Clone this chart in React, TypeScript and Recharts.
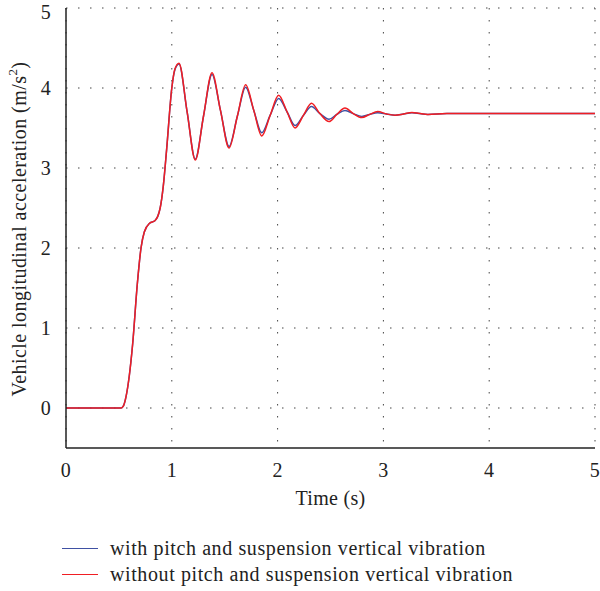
import React from 'react';
import {
  LineChart,
  Line,
  XAxis,
  YAxis,
  CartesianGrid,
} from 'recharts';

// time (s)
const times = [
  0, 0.52, 0.54, 0.567, 0.598, 0.63, 0.674, 0.709, 0.74, 0.79, 0.84, 0.89, 0.92, 0.951, 1.0, 1.03,
  1.068, 1.145, 1.222, 1.3, 1.38, 1.46, 1.541, 1.62, 1.698, 1.775, 1.85, 1.93, 2.01, 2.09,
  2.165, 2.245, 2.32, 2.4, 2.486, 2.56, 2.637, 2.715, 2.795, 2.87, 2.946, 3.03, 3.11, 3.19,
  3.27, 3.345, 3.42, 3.6, 4.0, 4.5, 5.0,
];

// with pitch and suspension vertical vibration
const withVibration = [
  0, 0, 0.02, 0.14, 0.4, 0.8, 1.55, 2.0, 2.2, 2.31, 2.34, 2.5, 2.78, 3.23, 4.0, 4.23,
  4.3, 3.7, 3.11, 3.65, 4.17, 3.72, 3.27, 3.65, 4.01, 3.72, 3.44, 3.66, 3.87, 3.7,
  3.53, 3.66, 3.77, 3.68, 3.61, 3.67, 3.72, 3.68, 3.645, 3.67, 3.69, 3.675, 3.66, 3.675,
  3.69, 3.68, 3.67, 3.68, 3.68, 3.68, 3.68,
];

// without pitch and suspension vertical vibration
const withoutVibration = [
  0, 0, 0.02, 0.14, 0.4, 0.8, 1.55, 2.0, 2.2, 2.31, 2.34, 2.5, 2.78, 3.23, 4.0, 4.24,
  4.31, 3.7, 3.1, 3.65, 4.19, 3.72, 3.25, 3.65, 4.04, 3.72, 3.4, 3.66, 3.91, 3.7,
  3.5, 3.66, 3.81, 3.68, 3.58, 3.67, 3.75, 3.68, 3.63, 3.67, 3.705, 3.675, 3.66, 3.675,
  3.695, 3.68, 3.67, 3.68, 3.68, 3.68, 3.68,
];

const xTicks = [0, 1, 2, 3, 4, 5];
const yTicks = [0, 1, 2, 3, 4, 5];

const data = times.map((t, i) => ({
  t,
  blue: withVibration[i],
  red: withoutVibration[i],
}));

const FONT = '"Liberation Serif", "Times New Roman", serif';
const FS = 20;
const LS = 0.3;
const BLUE = '#3f51a3';
const RED = '#f01e23';

const tickStyle = { fill: '#222', fontSize: FS, fontFamily: FONT, letterSpacing: LS };

const App = () => {
  return (
    <div
      style={{
        position: 'absolute',
        left: 0,
        top: 0,
        width: 600,
        height: 591,
        background: '#fff',
        fontFamily: FONT,
      }}
    >
      <LineChart
        width={600}
        height={591}
        data={data}
        margin={{ top: 8, right: 5, bottom: 86, left: 0 }}
      >
        <CartesianGrid
          stroke="#444"
          strokeDasharray="1.5 10.5"
          horizontalValues={yTicks}
          verticalValues={xTicks}
        />
        <XAxis
          dataKey="t"
          type="number"
          domain={[0, 5]}
          ticks={xTicks}
          height={57}
          tickLine={false}
          tickMargin={9}
          stroke="#222"
          strokeWidth={1.5}
          tick={tickStyle}
          label={{
            value: 'Time (s)',
            position: 'insideBottom',
            offset: 0,
            ...tickStyle,
          }}
        />
        <XAxis
          xAxisId="top"
          dataKey="t"
          type="number"
          orientation="top"
          domain={[0, 5]}
          ticks={xTicks}
          height={0}
          mirror
          tick={false}
          tickSize={5}
          stroke="#222"
          strokeWidth={1.5}
        />
        <YAxis
          type="number"
          domain={[-0.5, 5]}
          ticks={yTicks}
          width={66}
          tickLine={false}
          tickMargin={9}
          stroke="#222"
          strokeWidth={1.5}
          tick={tickStyle}
        />
        <YAxis
          yAxisId="right"
          type="number"
          orientation="right"
          domain={[-0.5, 5]}
          ticks={yTicks}
          width={0}
          mirror
          tick={false}
          tickSize={5}
          stroke="#222"
          strokeWidth={1.5}
        />
        <Line
          type="monotone"
          dataKey="blue"
          stroke={BLUE}
          strokeWidth={1.5}
          dot={false}
          isAnimationActive={false}
        />
        <Line
          type="monotone"
          dataKey="red"
          stroke={RED}
          strokeWidth={1.5}
          dot={false}
          isAnimationActive={false}
        />
        <text
          x={19}
          y={229}
          transform="rotate(-90, 19, 229)"
          textAnchor="middle"
          dominantBaseline="central"
          fill="#222"
          fontSize={FS}
          fontFamily={FONT}
          letterSpacing={0.45}
        >
          Vehicle longitudinal acceleration (m/s
          <tspan dy={-7} fontSize={13}>2</tspan>
          <tspan dy={7}>)</tspan>
        </text>
      </LineChart>
      <div
        style={{
          position: 'absolute',
          left: 62,
          top: 535,
          fontSize: FS,
          letterSpacing: 0.6,
          color: '#222',
        }}
      >
        {[
          { name: 'with pitch and suspension vertical vibration', color: BLUE },
          { name: 'without pitch and suspension vertical vibration', color: RED },
        ].map((item) => (
          <div key={item.name} style={{ display: 'flex', alignItems: 'center', height: 26 }}>
            <div style={{ width: 36, height: 0, borderTop: `1.5px solid ${item.color}`, marginRight: 12 }} />
            <span>{item.name}</span>
          </div>
        ))}
      </div>
    </div>
  );
};

export default App;
